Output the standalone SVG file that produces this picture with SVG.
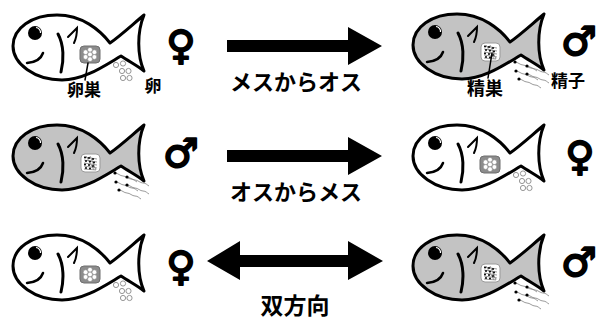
<svg xmlns="http://www.w3.org/2000/svg" xmlns:xlink="http://www.w3.org/1999/xlink" width="599" height="322" viewBox="0 0 599 322">
  <style>
    .body-f { fill: #ffffff; stroke: #000; stroke-width: 3; stroke-linejoin: round; }
    .body-m { fill: #c3c3c3; stroke: #000; stroke-width: 3; stroke-linejoin: round; }
    .line { fill: none; stroke: #000; stroke-linecap: round; }
    .egg { fill: #fff; stroke: #8a8a8a; stroke-width: 0.9; }
    .tail { fill: none; stroke: #808080; stroke-width: 0.8; }
    .lbl { font-family: "Noto Sans CJK JP", "Noto Sans", sans-serif; font-weight: bold; fill: #000; text-anchor: middle; }
    .sym { font-family: "DejaVu Sans", sans-serif; font-weight: bold; fill: #000; stroke: #000; stroke-width: 2; stroke-linejoin: round; text-anchor: middle; }
  </style>
  <defs>
    <!-- fish outline, body + forked tail -->
    <path id="fishBody" d="M110,43 C100,30 82,15 57,15 C32,15 13,28 13,46 C13,64 35,80 62,80 C84,80 104,66 121,56 C130,62 138,66 144,71 C137,55 137,32 144,15 C132,25 120,36 110,43 Z"/>
    <!-- face: eye, mouth, gill line, pectoral fin -->
    <g id="face">
      <circle cx="35" cy="33" r="7" fill="#000"/>
      <path d="M36,27.5 A5,5 0 0 1 40.5,33" fill="none" stroke="#fff" stroke-width="1.2"/>
      <path class="line" stroke-width="2.5" d="M27,63 Q40,62 43,53"/>
      <path class="line" stroke-width="3" d="M58,34 C64,45 64,60 61,72"/>
      <path class="line" stroke-width="2" d="M68,37 L77,28 Q77,37 74,43"/>
    </g>
    <!-- ovary with eggs inside -->
    <g id="ovary">
      <rect x="80" y="46" width="20" height="17" rx="4" fill="#8c8c8c" stroke="#6e6e6e" stroke-width="1"/>
      <g fill="#fff" stroke="#8c8c8c" stroke-width="0.6">
        <circle cx="90" cy="49.8" r="2.4"/>
        <circle cx="90" cy="54.5" r="2.4"/>
        <circle cx="90" cy="59.2" r="2.4"/>
        <circle cx="85.6" cy="52.2" r="2.4"/>
        <circle cx="85.6" cy="57" r="2.4"/>
        <circle cx="94.4" cy="52.2" r="2.4"/>
        <circle cx="94.4" cy="57" r="2.4"/>
      </g>
    </g>
    <!-- testis filled with sperm -->
    <g id="testis">
      <rect x="81" y="44" width="19" height="18" rx="4" fill="#fff" stroke="#9a9a9a" stroke-width="1"/>
      <g class="tail" stroke-width="0.6">
        <path d="M84,47 l13,2 M84,50 l13,2 M84,53 l13,2 M84,56 l13,2 M84,59 l12,1"/>
        <path d="M86,46 l8,14 M90,46 l6,14"/>
      </g>
      <g fill="#000">
        <circle cx="85" cy="47.5" r="1"/><circle cx="89" cy="48" r="1"/><circle cx="93" cy="49" r="1"/>
        <circle cx="86" cy="51" r="1"/><circle cx="90" cy="51.5" r="1"/><circle cx="94" cy="52.5" r="1"/>
        <circle cx="85" cy="54.5" r="1"/><circle cx="89" cy="55" r="1"/><circle cx="93" cy="56" r="1"/>
        <circle cx="86" cy="58" r="1"/><circle cx="90" cy="58.5" r="1"/>
      </g>
    </g>
    <!-- released eggs -->
    <g id="eggs">
      <circle class="egg" cx="116" cy="65" r="2.6"/>
      <circle class="egg" cx="123" cy="63.5" r="2.6"/>
      <circle class="egg" cx="122" cy="71" r="2.6"/>
      <circle class="egg" cx="128.5" cy="71" r="2.6"/>
      <circle class="egg" cx="123" cy="78" r="2.6"/>
      <circle class="egg" cx="129.5" cy="78" r="2.6"/>
    </g>
    <!-- released sperm -->
    <path id="spTail" class="tail" d="M0,0 c3,0 5,3 8,3 s5,3 8,3 s4,2 6,3"/>
    <g id="sperm">
      <use xlink:href="#spTail" x="115" y="63"/>
      <use xlink:href="#spTail" x="127" y="67"/>
      <use xlink:href="#spTail" x="116" y="72"/>
      <use xlink:href="#spTail" x="127" y="75"/>
      <use xlink:href="#spTail" x="119" y="80"/>
      <g fill="#000">
        <circle cx="115" cy="63" r="1.6"/>
        <circle cx="127" cy="67" r="1.6"/>
        <circle cx="116" cy="72" r="1.6"/>
        <circle cx="127" cy="75" r="1.6"/>
        <circle cx="119" cy="80" r="1.6"/>
      </g>
    </g>
  </defs>

  <!-- row 1: female to male -->
  <g id="fish-r1-left">
    <use xlink:href="#fishBody" class="body-f"/>
    <use xlink:href="#face"/>
    <use xlink:href="#ovary"/>
    <use xlink:href="#eggs"/>
    <path class="line" stroke-width="1.5" d="M88,63 L85,80"/>
    <text class="lbl" x="84" y="96" font-size="17">卵巣</text>
    <text class="lbl" x="153" y="92" font-size="17">卵</text>
    <text class="sym" x="181" y="59" font-size="40">♀</text>
  </g>
  <g id="fish-r1-right" transform="translate(400,-1)">
    <use xlink:href="#fishBody" class="body-m"/>
    <use xlink:href="#face"/>
    <use xlink:href="#testis"/>
    <use xlink:href="#sperm"/>
    <path class="line" stroke-width="1.5" d="M92,54 L88,79"/>
    <text class="lbl" x="85" y="96" font-size="18">精巣</text>
    <text class="lbl" x="168" y="88" font-size="17">精子</text>
    <text class="sym" x="179" y="56" font-size="40">♂</text>
  </g>

  <!-- row 2: male to female -->
  <g id="fish-r2-left" transform="translate(0,110)">
    <use xlink:href="#fishBody" class="body-m"/>
    <use xlink:href="#face"/>
    <use xlink:href="#testis"/>
    <use xlink:href="#sperm"/>
    <text class="sym" x="181" y="57" font-size="40">♂</text>
  </g>
  <g id="fish-r2-right" transform="translate(400,110)">
    <use xlink:href="#fishBody" class="body-f"/>
    <use xlink:href="#face"/>
    <use xlink:href="#ovary"/>
    <use xlink:href="#eggs"/>
    <text class="sym" x="180" y="60" font-size="40">♀</text>
  </g>

  <!-- row 3: both directions -->
  <g id="fish-r3-left" transform="translate(0,220)">
    <use xlink:href="#fishBody" class="body-f"/>
    <use xlink:href="#face"/>
    <use xlink:href="#ovary"/>
    <use xlink:href="#eggs"/>
    <text class="sym" x="181" y="60" font-size="40">♀</text>
  </g>
  <g id="fish-r3-right" transform="translate(400,220)">
    <use xlink:href="#fishBody" class="body-m"/>
    <use xlink:href="#face"/>
    <use xlink:href="#testis"/>
    <use xlink:href="#sperm"/>
    <text class="sym" x="179" y="56" font-size="40">♂</text>
  </g>

  <!-- connectors -->
  <g id="connectors" fill="#000">
    <path d="M227,40 H348 V27 L382,46 L348,65 V52 H227 Z"/>
    <path d="M227,150 H348 V137 L382,156 L348,175 V162 H227 Z"/>
    <path d="M207,261 L240,241 V255 H348 V241 L383,261 L348,280 V267 H240 V280 Z"/>
  </g>
  <g id="connector-labels">
    <text class="lbl" x="296" y="90" font-size="22">メスからオス</text>
    <text class="lbl" x="296" y="200" font-size="22">オスからメス</text>
    <text class="lbl" x="295" y="314" font-size="23">双方向</text>
  </g>
</svg>
